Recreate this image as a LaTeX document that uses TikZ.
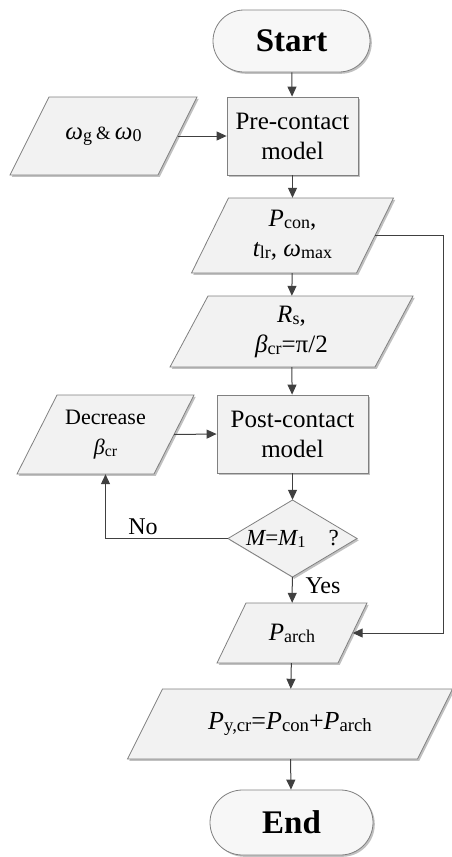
\documentclass[tikz,border=0pt]{standalone}
\usepackage{fontspec}
\setmainfont{Liberation Serif}
\usepackage{graphicx}
\usetikzlibrary{arrows.meta,shadows,calc}
\newcommand\sbx[1]{\raisebox{-0.08em}{\scalebox{0.72}{#1}}}
\newcommand\paranode[8]{%
  \path[box] ({#2-#4/2+#6/2},{#3-#5/2}) -- ({#2+#4/2+#6/2},{#3-#5/2}) -- ({#2+#4/2-#6/2},{#3+#5/2}) -- ({#2-#4/2-#6/2},{#3+#5/2}) -- cycle;
  \node[txt, minimum width=#4pt, minimum height=#5pt, #7] (#1) at (#2,#3) {#8};
}
\tikzset{
  box/.style={draw=black!50, line width=0.8pt, fill=black!5,
    drop shadow={shadow xshift=1.8pt, shadow yshift=-1.8pt, fill=black!35, opacity=0.7}},
  txt/.style={inner sep=0pt, align=center, font=\fontsize{25}{30}\selectfont},
  term/.style={box, fill=black!3, inner sep=0pt, font=\fontsize{33}{36}\selectfont\bfseries},
  proc/.style={box, inner sep=0pt, align=center, font=\fontsize{25}{30}\selectfont},
  lbl/.style={inner sep=0pt, font=\fontsize{24}{30}\selectfont},
  arr/.style={draw=black!75, line width=1pt, -{Triangle[length=10pt,width=9pt]}}
}
\begin{document}
\begin{tikzpicture}[x=1pt,y=-1pt]
\useasboundingbox (0,0) rectangle (451,857);
% terminals and processes
\node[term, minimum width=157pt, minimum height=62pt, rounded corners=31pt] (start) at (291.5,41) {Start};
\node[proc, minimum width=131pt, minimum height=78pt] (pre) at (292.5,136) {Pre-contact\\model};
\node[proc, minimum width=151pt, minimum height=78pt] (post) at (292.5,434) {Post-contact\\model};
\node[term, minimum width=163pt, minimum height=65pt, rounded corners=32.5pt] (end) at (291.5,822.5) {End};
% parallelograms
\paranode{omega}{103.5}{136}{148}{78}{39}{}{{\itshape ω}\sbx{g}\,\scalebox{0.75}{\&}\,{\itshape ω}\sbx{0}}
\paranode{pcon}{292.5}{235.5}{165}{75}{37}{}{{\itshape P}\sbx{con},\\{\itshape t}\sbx{lr}, {\itshape ω}\sbx{max}}
\paranode{rs}{291.5}{331.5}{205}{71}{38}{}{{\itshape R}\sbx{s},\\{\itshape β}\sbx{cr}=π/2}
\paranode{dec}{105.5}{434.5}{137}{79}{40}{font=\fontsize{22}{30}\selectfont}{Decrease\\{\itshape β}\sbx{cr}}
\paranode{parch}{292}{633}{121}{60}{29}{}{{\itshape P}\sbx{arch}}
\paranode{py}{290}{724}{290}{70}{35}{font=\fontsize{26}{30}\selectfont}{{\itshape P}\sbx{y,cr}={\itshape P}\sbx{con}+{\itshape P}\sbx{arch}}
% decision
\path[box] (292.5,500) -- (357,538.5) -- (292.5,577) -- (228,538.5) -- cycle;
\node[txt, minimum width=129pt, minimum height=77pt, font=\fontsize{23}{30}\selectfont] (dia) at (292.5,538.5) {{\itshape M}={\itshape M}\sbx{1}\quad ?};
% labels
\node[lbl] (no) at (143,527) {No};
\node[lbl] (yes) at (323,586) {Yes};
\coordinate (rail) at (443,0);
% connectors
\draw[arr] (start) -- (pre);
\draw[arr] (omega.east) -- (pre.west);
\draw[arr] (pre) -- (pcon);
\draw[arr] (pcon) -- (rs);
\draw[arr] (rs) -- (post);
\draw[arr] (dec.east) -- (post.west);
\draw[arr] (post) -- (dia);
\draw[arr] (dia.west) -| (dec.south);
\draw[arr] (dia) -- (parch);
\draw[arr] (pcon.east) -- (pcon.east -| rail) -- (parch.east -| rail) -- (parch.east);
\draw[arr] (parch) -- (py);
\draw[arr] (py) -- (end);
\end{tikzpicture}
\end{document}
